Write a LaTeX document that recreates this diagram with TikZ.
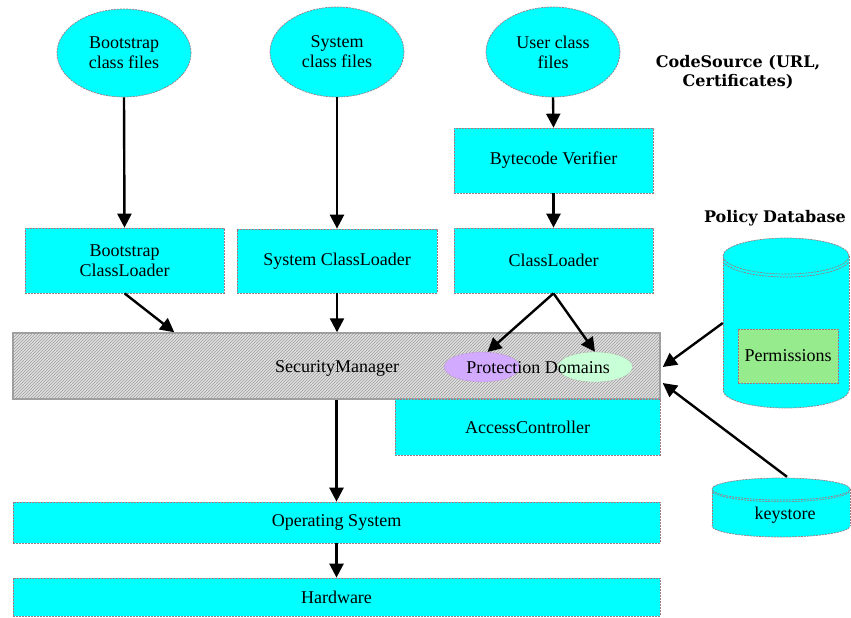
\documentclass[tikz,border=0pt]{standalone}
\usepackage{fontspec}
\setmainfont{Liberation Serif}
\newfontfamily\boldlab{DejaVu Serif}
\usetikzlibrary{arrows.meta,patterns,shapes.geometric,calc}
\definecolor{cy}{RGB}{0,255,255}
\definecolor{bord}{RGB}{160,120,130}
\definecolor{pur}{RGB}{210,170,255}
\definecolor{lgr}{RGB}{200,255,215}
\definecolor{perm}{RGB}{150,235,140}
\newcommand\labfnt{\fontsize{18}{20}\selectfont}
\newcommand\hdfnt{\boldlab\bfseries\fontsize{16}{19}\selectfont}
\tikzset{
  bx/.style={rectangle, fill=cy, draw=bord, line width=0.7pt, dash pattern=on 2pt off 1pt, inner sep=0pt, align=center, font=\labfnt},
  ov/.style={ellipse, fill=cy, draw=bord, line width=0.7pt, dash pattern=on 2pt off 1pt, inner sep=0pt, align=center, font=\labfnt},
  arr/.style={draw=black, line width=2.4pt, -{Triangle[length=14pt,width=14pt]}},
  hd/.style={align=center, font=\hdfnt, inner sep=0pt},
  cyl/.style={fill=cy, draw=bord, line width=0.7pt, dash pattern=on 2pt off 1pt}
}
\begin{document}
\begin{tikzpicture}[x=1pt,y=-1pt]
\useasboundingbox[fill=white] (0,0) rectangle (851,618);
% ovals
\node[ov, minimum width=134pt, minimum height=88pt] (be) at (124,53) {Bootstrap\\class files};
\node[ov, minimum width=134pt, minimum height=90pt] (se) at (337,52) {System\\class files};
\node[ov, minimum width=134pt, minimum height=90pt] (ue) at (553,52) {User class\\files};
\node[hd] (cs) at (738,72.5) {CodeSource (URL,\\Certificates)};
% boxes
\node[bx, minimum width=199pt, minimum height=65pt] (bv) at (553.5,160.5) {Bytecode Verifier};
\node[bx, minimum width=199pt, minimum height=65pt] (bcl) at (124.5,260.5) {Bootstrap\\ClassLoader};
\node[bx, minimum width=200pt, minimum height=64pt] (scl) at (337,261) {System ClassLoader};
\node[bx, minimum width=199pt, minimum height=65pt] (cl) at (553.5,260.5) {ClassLoader};
% security manager band
\node[rectangle, inner sep=0pt, minimum width=647pt, minimum height=66pt, preaction={fill=gray!25}, pattern=north east lines, pattern color=gray!75, draw=gray!75, line width=1.4pt, font=\labfnt] (sm) at (336.5,366) {};
\node[font=\labfnt, inner sep=0pt] (smt) at (337,368) {SecurityManager};
\node[ellipse, fill=pur, draw=bord, densely dotted, minimum width=76pt, minimum height=30pt, inner sep=0pt] (pe) at (482,367) {};
\node[ellipse, fill=lgr, draw=bord, densely dotted, minimum width=75pt, minimum height=30pt, inner sep=0pt] (ge) at (595,367) {};
\node[font=\labfnt, inner sep=0pt] (pdt) at (538,368) {Protection Domains};
\node[bx, minimum width=265pt, minimum height=56pt] (ac) at (527.5,427) {AccessController};
\node[bx, minimum width=647pt, minimum height=41pt] (os) at (336.5,522.5) {Operating System};
\node[bx, minimum width=647pt, minimum height=38pt] (hw) at (336.5,597) {Hardware};
% policy database cylinder
\node[hd] (pdl) at (775,218) {Policy Database};
\node[rectangle, draw=none, minimum width=126pt, minimum height=170pt, inner sep=0pt] (pdb) at (786,323) {};
\path[cyl] (786,390) ellipse [x radius=63pt, y radius=18pt];
\fill[cy] (723,256) rectangle (849,390);
\draw[bord, line width=0.7pt, dash pattern=on 2pt off 1pt] (723,256) -- (723,390) (849,256) -- (849,390);
\path[cyl] (786,256) ellipse [x radius=63pt, y radius=18pt];
\draw[bord, line width=0.7pt, dash pattern=on 2pt off 1pt] (723,262) .. controls (740,282) and (832,282) .. (849,262);
\node[bx, fill=perm, minimum width=100pt, minimum height=54pt] (perm) at (788,356) {Permissions};
% keystore cylinder
\node[rectangle, draw=none, minimum width=138pt, minimum height=59pt, inner sep=0pt] (ks) at (781,507.5) {};
\path[cyl] (781,526) ellipse [x radius=69pt, y radius=11pt];
\fill[cy] (712,489) rectangle (850,526);
\draw[bord, line width=0.7pt, dash pattern=on 2pt off 1pt] (712,489) -- (712,526) (850,489) -- (850,526);
\path[cyl] (781,489) ellipse [x radius=69pt, y radius=11pt];
\draw[bord, line width=0.7pt, dash pattern=on 2pt off 1pt] (712,492) .. controls (730,505) and (832,505) .. (850,492);
\node[font=\labfnt, inner sep=0pt] (kst) at (785,515) {keystore};
% arrows
\draw[arr] (be.south) -- (bcl.north);
\draw[arr] (se.south) -- (scl.north);
\draw[arr] (ue.south) -- (bv.north);
\draw[arr] (bv.south) -- (cl.north);
\draw[arr] (bcl.south) -- ($(sm.north west)+(162,0)$);
\draw[arr] (scl.south) -- (scl.south |- sm.north);
\draw[arr] (cl.south) -- (pe.70);
\draw[arr] (cl.south) -- (ge.north);
\draw[arr] (pdb.west) -- ($(sm.east)+(2,1)$);
\draw[arr] ($(ks.north)+(6,-1)$) -- ($(sm.east)+(2,17)$);
\draw[arr] (sm.south) -- (os.north);
\draw[arr] (os.south) -- (hw.north);
\end{tikzpicture}
\end{document}
